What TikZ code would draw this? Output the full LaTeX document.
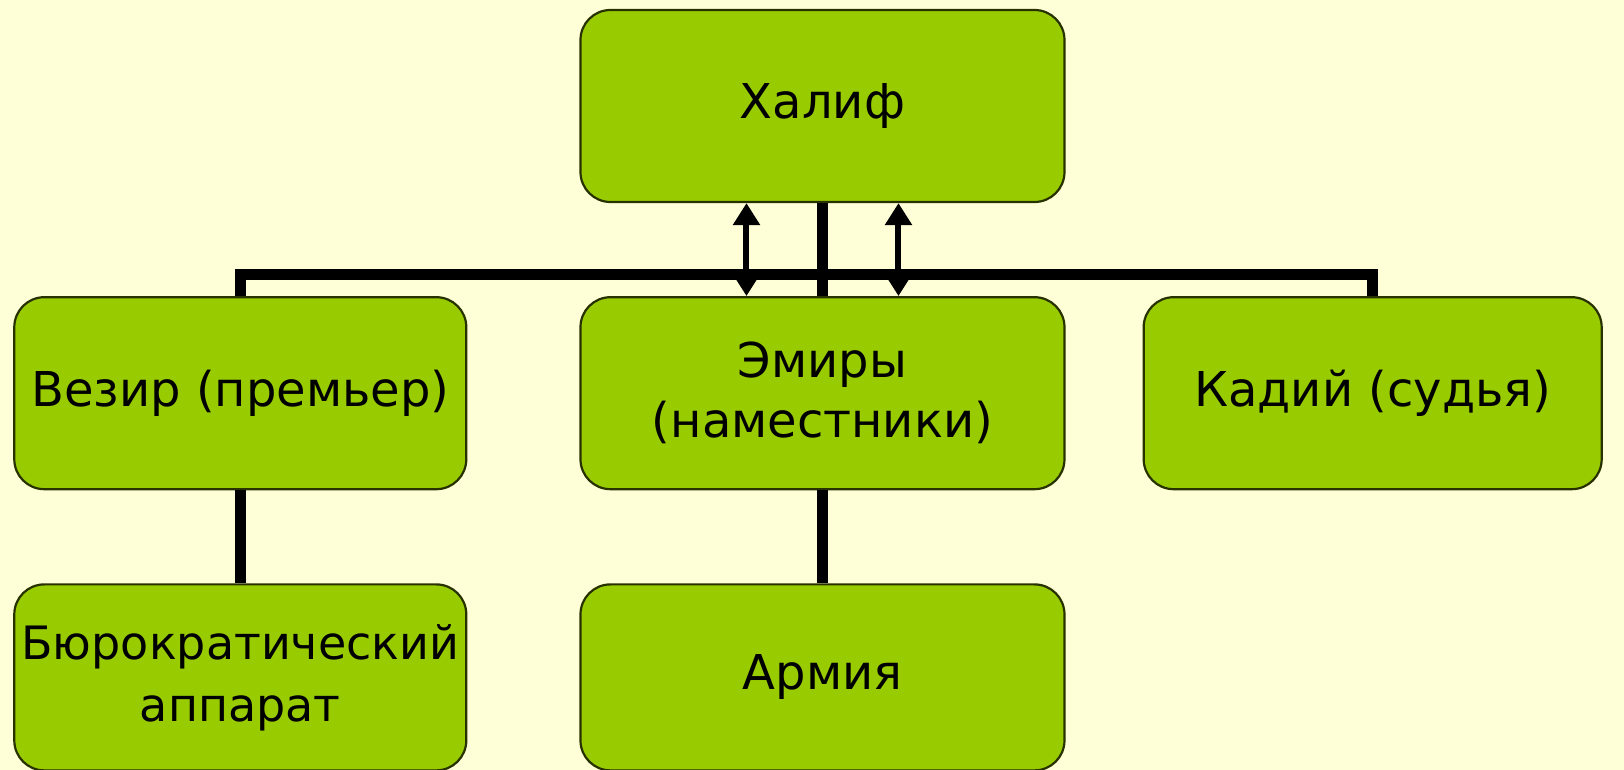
\documentclass[tikz,border=0pt]{standalone}
\usepackage{fontspec}
\setmainfont{DejaVu Sans}
\usepackage{xcolor}
\usepackage{tikz}
\usetikzlibrary{positioning,arrows.meta}

\definecolor{bgyellow}{RGB}{255,255,215}
\definecolor{boxgreen}{RGB}{153,204,0}
\definecolor{edgegreen}{RGB}{40,50,0}

\begin{document}
\begin{tikzpicture}[node distance=46.5pt and 56pt,
    block/.style={rectangle, rounded corners=15pt, draw=edgegreen, line width=1.1pt, fill=boxgreen,
        align=center, minimum width=242pt, minimum height=96pt, inner sep=2pt,
        font=\fontsize{24}{30}\selectfont},
    link/.style={line width=5.5pt, line cap=butt},
    arrow/.style={{Triangle[width=13pt,length=11pt]}-{Triangle[width=13pt,length=11pt]}, line width=3pt}]

    % background and page size
    \fill[bgyellow] (-411.25pt,53pt) rectangle (400.75pt,-332pt);
    \useasboundingbox (-411.25pt,53pt) rectangle (400.75pt,-332pt);

    \node[block] (khalif) {Халиф};
    \node[block, below=of khalif] (emirs) {Эмиры\\(наместники)};
    \node[block, left=of emirs, minimum width=226pt] (vizier) {Везир (премьер)};
    \node[block, right=38.5pt of emirs, minimum width=229pt] (qadi) {Кадий (судья)};
    \node[block, below=of vizier, minimum width=226pt, minimum height=93pt,
        font=\fontsize{23}{31}\selectfont] (bureau) {Бюрократический\\аппарат};
    \node[block, below=of emirs, minimum height=93pt] (army) {Армия};

    \draw[link] (khalif) -- (emirs);
    \draw[link] (vizier.north) -- ++(0,11pt) -| (qadi.north);
    \draw[link] (vizier) -- (bureau);
    \draw[link] (emirs) -- (army);

    \draw[arrow] ([xshift=-38pt]khalif.south) -- ([xshift=-38pt]emirs.north);
    \draw[arrow] ([xshift=38pt]khalif.south) -- ([xshift=38pt]emirs.north);
\end{tikzpicture}
\end{document}
